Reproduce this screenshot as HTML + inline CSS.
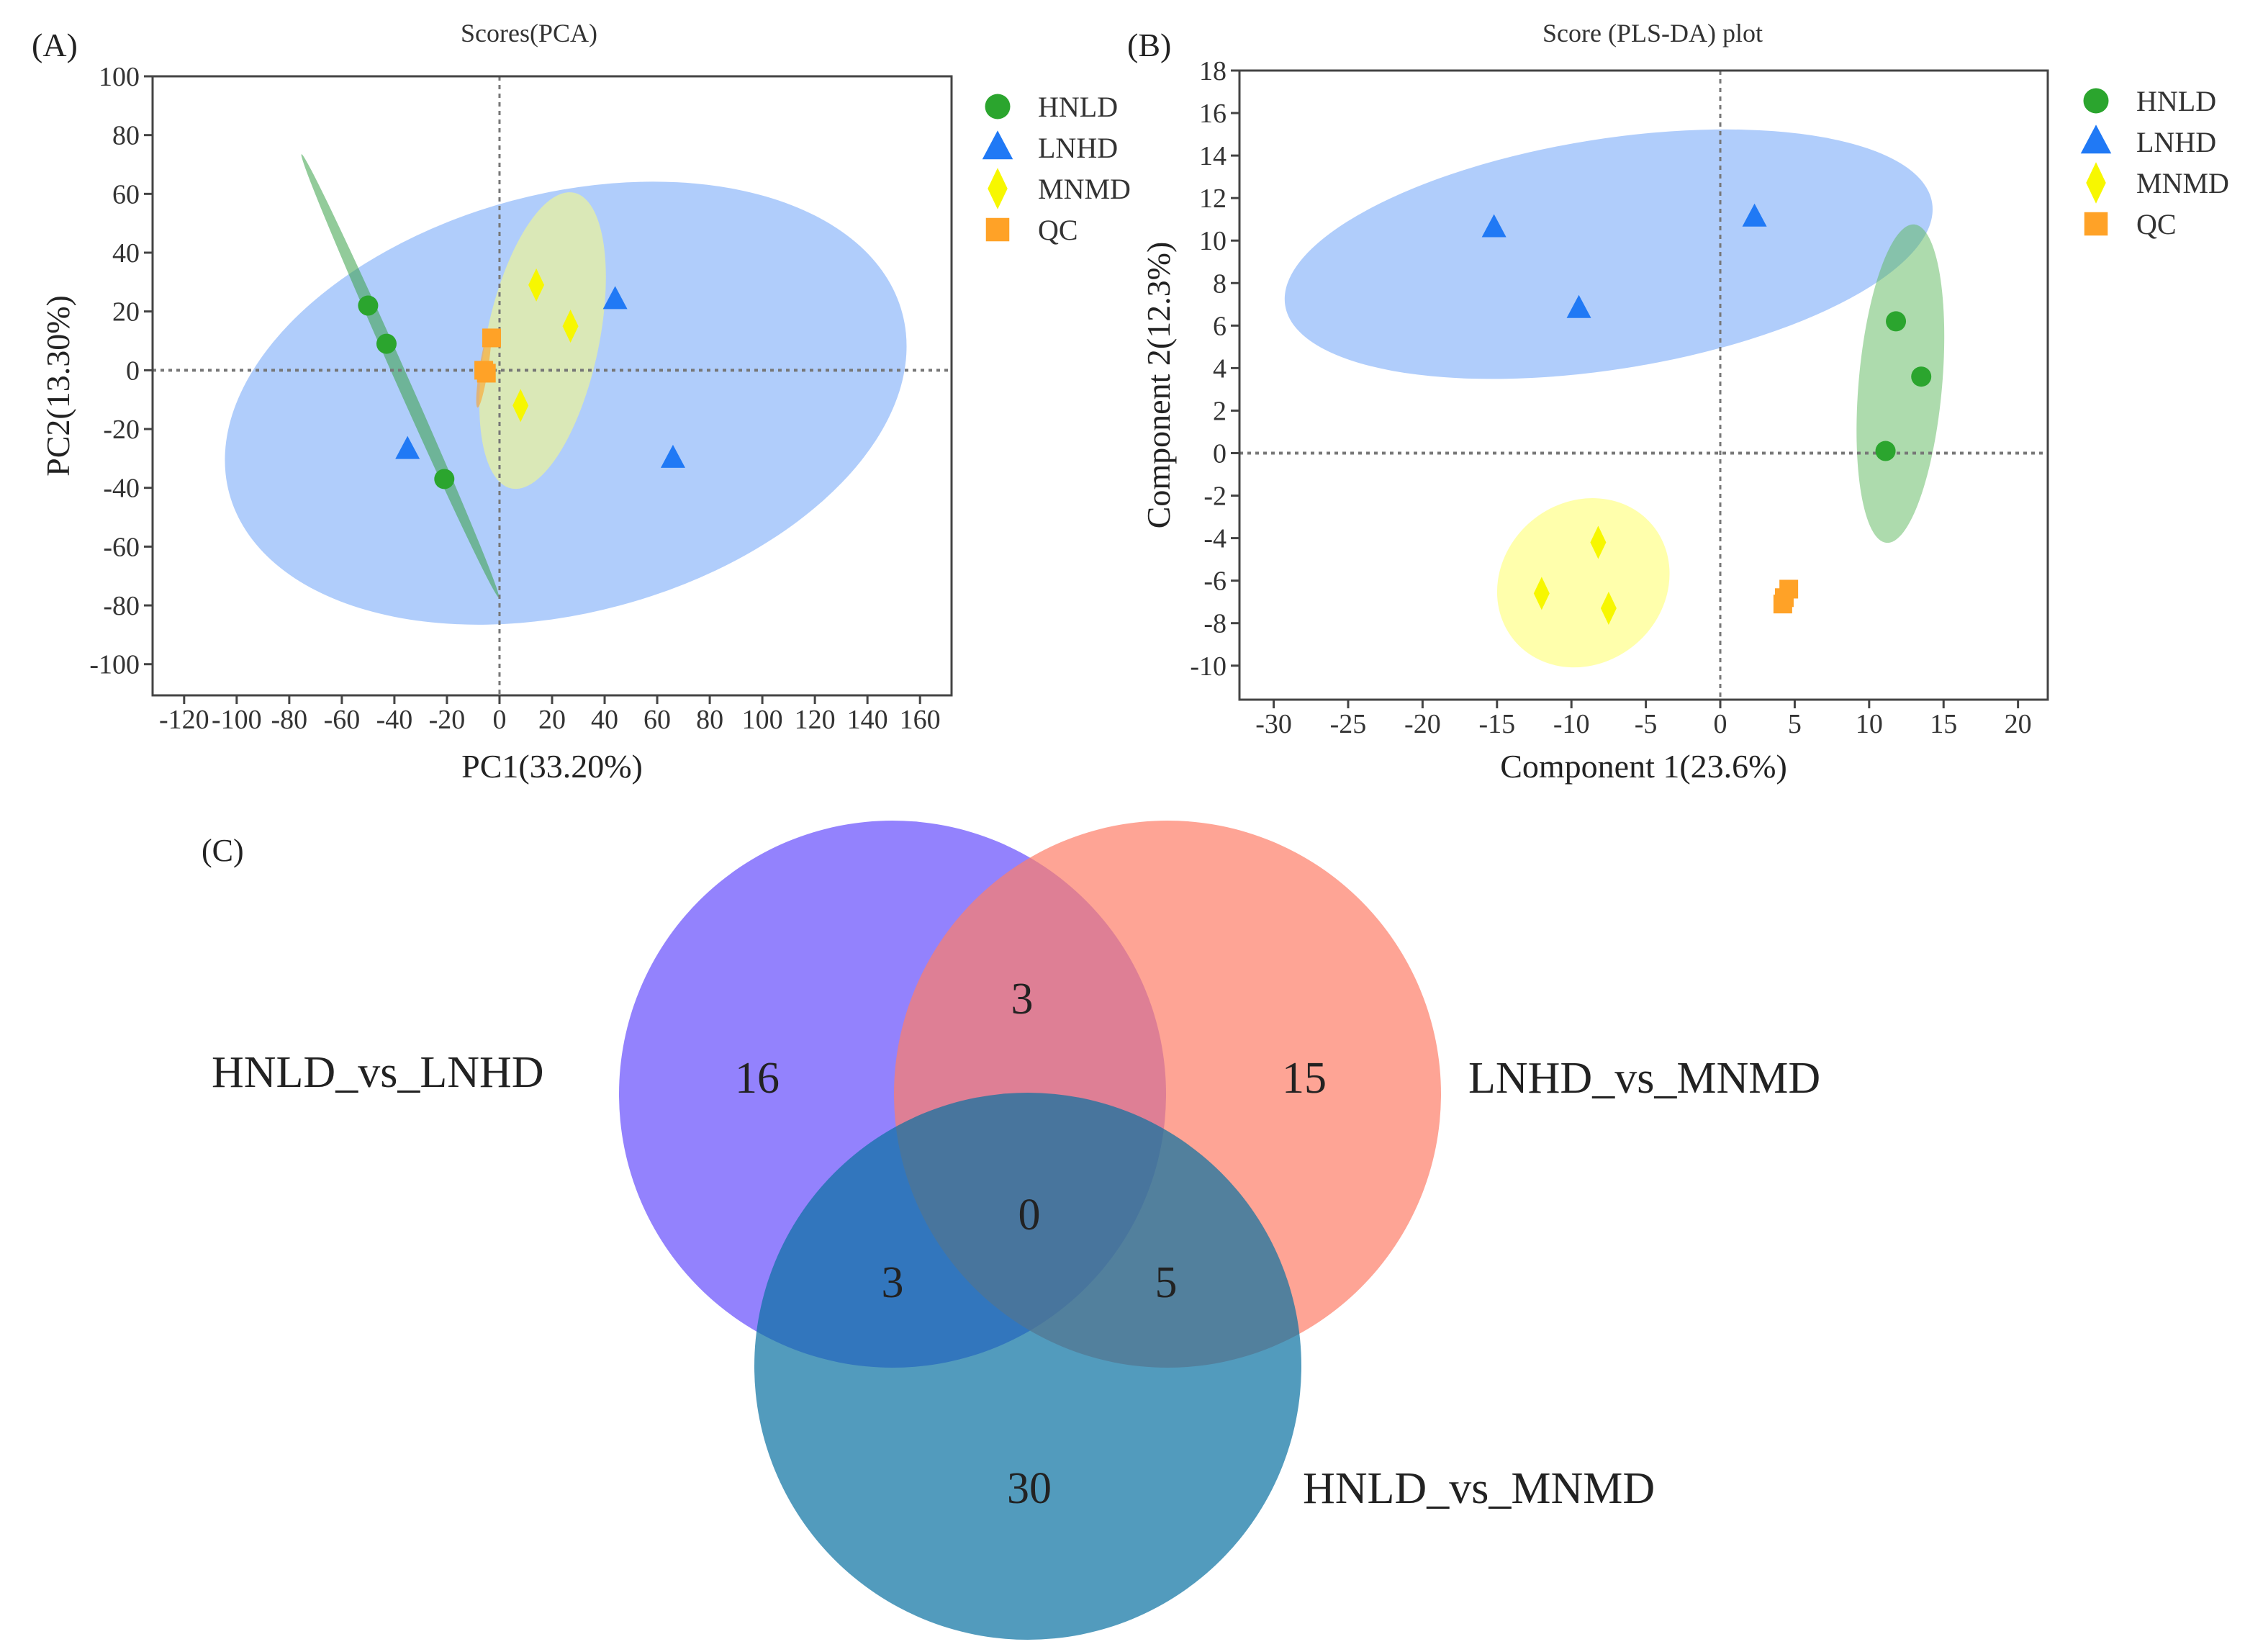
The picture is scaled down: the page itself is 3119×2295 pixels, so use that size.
<!DOCTYPE html>
<html><head><meta charset="utf-8"><style>
html,body{margin:0;padding:0;background:#fff}
svg{display:block;font-family:"Liberation Serif","DejaVu Serif",serif}
text{font-family:"Liberation Serif","DejaVu Serif",serif}
</style></head><body>
<svg id="fig" width="3119" height="2295" viewBox="0 0 3119 2295" xmlns="http://www.w3.org/2000/svg" font-family="Liberation Serif, serif">
<g id="pa"></g>
<g id="pb"></g>
<g id="pc"></g>
</svg>
<script>
// ---- Panel A data (PCA) ----
const aXTicks=[-120,-100,-80,-60,-40,-20,0,20,40,60,80,100,120,140,160];
const aYTicks=[100,80,60,40,20,0,-20,-40,-60,-80,-100];
const aHNLD=[[-50,22],[-43,9],[-21,-37]];
const aLNHD=[[-35,-27],[44,24],[66,-30]];
const aMNMD=[[14,29],[27,15],[8,-12]];
const aQC=[[-3,11],[-6,0],[-5,-1]];
// ---- Panel B data (PLS-DA) ----
const bXTicks=[-30,-25,-20,-15,-10,-5,0,5,10,15,20];
const bYTicks=[18,16,14,12,10,8,6,4,2,0,-2,-4,-6,-8,-10];
const bHNLD=[[11.8,6.2],[13.5,3.6],[11.1,0.1]];
const bLNHD=[[-15.2,10.6],[-9.5,6.8],[2.3,11.1]];
const bMNMD=[[-8.2,-4.2],[-12,-6.6],[-7.5,-7.3]];
const bQC=[[4.6,-6.4],[4.3,-6.8],[4.2,-7.1]];
// ---- Venn data ----
const vennSets=["HNLD_vs_LNHD","LNHD_vs_MNMD","HNLD_vs_MNMD"];
const vennCounts={a:16,b:15,c:30,ab:3,ac:3,bc:5,abc:0};

const NS="http://www.w3.org/2000/svg";
const FF='"Liberation Serif", "DejaVu Serif", serif';
function mk(parent,tag,attrs,text){const e=document.createElementNS(NS,tag);for(const k in attrs)e.setAttribute(k,attrs[k]);if(text!==undefined){e.textContent=text;e.setAttribute('font-family',FF);}parent.appendChild(e);return e;}
const COL={HNLD:"#2ba52e",LNHD:"#2079f5",MNMD:"#f7f700",QC:"#ffa227"};
function marker(g,type,x,y,s){
  let e;
  if(type==="HNLD")e=mk(g,"circle",{cx:x,cy:y,r:14*s,fill:COL.HNLD});
  else if(type==="LNHD")e=mk(g,"polygon",{points:`${x},${y-19*s} ${x-17*s},${y+13*s} ${x+17*s},${y+13*s}`,fill:COL.LNHD});
  else if(type==="MNMD")e=mk(g,"polygon",{points:`${x},${y-23*s} ${x+11*s},${y} ${x},${y+23*s} ${x-11*s},${y}`,fill:COL.MNMD});
  else e=mk(g,"rect",{x:x-13*s,y:y-13*s,width:26*s,height:26*s,fill:COL.QC});
  return e;
}
function panel(g,cfg){
  const {x0,x1,y0,y1,xmin,xmax,ymin,ymax,xt,yt}=cfg;
  const sx=v=>x0+(v-xmin)/(xmax-xmin)*(x1-x0);
  const sy=v=>y1-(v-ymin)/(ymax-ymin)*(y1-y0);
  cfg.ellipses.forEach(el=>{
    const e=mk(g,"ellipse",{cx:sx(el.cx),cy:sy(el.cy),rx:el.rx,ry:el.ry,fill:el.fill,"fill-opacity":el.op,transform:`rotate(${el.rot} ${sx(el.cx)} ${sy(el.cy)})`});
    
    
  });
  const zl=mk(g,"line",{x1:x0,x2:x1,y1:sy(0),y2:sy(0),stroke:"#777","stroke-width":4,"stroke-dasharray":"5,6"});
  
  
  const zv=mk(g,"line",{x1:sx(0),x2:sx(0),y1:y0,y2:y1,stroke:"#777","stroke-width":3,"stroke-dasharray":"6,6"});
  
  
  const fr=mk(g,"rect",{x:x0,y:y0,width:x1-x0,height:y1-y0,fill:"none",stroke:"#444","stroke-width":3});
  
  
  xt.forEach(v=>{
    mk(g,"line",{x1:sx(v),x2:sx(v),y1:y1,y2:y1+12,stroke:"#444","stroke-width":3});
    const t=mk(g,"text",{x:sx(v),y:y1+46,"font-size":38,"text-anchor":"middle",fill:"#333"},String(v));
    
    
  });
  yt.forEach(v=>{
    mk(g,"line",{x1:x0-12,x2:x0,y1:sy(v),y2:sy(v),stroke:"#444","stroke-width":3});
    const t=mk(g,"text",{x:x0-18,y:sy(v)+13,"font-size":38,"text-anchor":"end",fill:"#333"},String(v));
    
    
  });
  cfg.series.forEach(s=>{
    s.data.forEach(p=>{
      const m=marker(g,s.type,sx(p[0]),sy(p[1]),1);
      
      
    });
  });
  ["HNLD","LNHD","MNMD","QC"].forEach((k,i)=>{
    const ly=cfg.ly+i*cfg.lstep;
    const m=marker(g,k,cfg.lx,ly,1.25);
    
    
    const t=mk(g,"text",{x:cfg.lx+56,y:ly+14,"font-size":40,fill:"#333"},k);
    
    
  });
  const ti=mk(g,"text",{x:cfg.tx,y:58,"font-size":36,"text-anchor":"middle",fill:"#333"},cfg.title);
  
  
  const pl=mk(g,"text",{x:cfg.px,y:78,"font-size":46,fill:"#222"},cfg.plabel);
  
  
  const xl=mk(g,"text",{x:(x0+x1)/2,y:1080,"font-size":46,"text-anchor":"middle",fill:"#222"},cfg.xlabel);
  
  
  const yx=cfg.ylx, ym=(y0+y1)/2;
  const yl=mk(g,"text",{x:yx,y:ym,"font-size":46,"text-anchor":"middle",fill:"#222",transform:`rotate(-90 ${yx} ${ym})`},cfg.ylabel);
  
  
}
panel(document.getElementById('pa'),{
  x0:212,x1:1322,y0:106,y1:966,xmin:-132,xmax:172,ymin:-110.6,ymax:100,
  xt:aXTicks,yt:aYTicks,
  ellipses:[
    {name:'lnhd-ellipse',cx:25.2,cy:-11.2,rx:484,ry:291,rot:-15,fill:"#80aef8",op:0.62},
    {name:'mnmd-ellipse',cx:16.4,cy:10.1,rx:210,ry:78,rot:-78,fill:"#e8f0a0",op:0.75},
    {name:'hnld-ellipse',cx:-37.8,cy:-1.9,rx:337,ry:9,rot:66,fill:"#38a047",op:0.55},
    {name:'qc-ellipse',cx:-6,cy:0.6,rx:55,ry:6,rot:-81,fill:"#ffa227",op:0.6}
  ],
  series:[{type:"HNLD",data:aHNLD},{type:"LNHD",data:aLNHD},{type:"MNMD",data:aMNMD},{type:"QC",data:aQC}],
  lx:1386,ly:148,lstep:57,title:"Scores(PCA)",tx:735,plabel:"(A)",px:44,
  xlabel:"PC1(33.20%)",ylabel:"PC2(13.30%)",ylx:96
});
panel(document.getElementById('pb'),{
  x0:1722,x1:2845,y0:98,y1:972,xmin:-32.3,xmax:22,ymin:-11.6,ymax:18,
  xt:bXTicks,yt:bYTicks,
  ellipses:[
    {name:'lnhd-ellipse',cx:-7.5,cy:9.36,rx:455,ry:160,rot:-9,fill:"#80aef8",op:0.62},
    {name:'hnld-ellipse',cx:12.1,cy:3.27,rx:222,ry:58,rot:-85,fill:"#5cb85c",op:0.5},
    {name:'mnmd-ellipse',cx:-9.2,cy:-6.1,rx:125,ry:112,rot:-40,fill:"#ffff80",op:0.65}
  ],
  series:[{type:"LNHD",data:bLNHD},{type:"HNLD",data:bHNLD},{type:"MNMD",data:bMNMD},{type:"QC",data:bQC}],
  lx:2912,ly:140,lstep:57,title:"Score (PLS-DA) plot",tx:2296,plabel:"(B)",px:1566,
  xlabel:"Component 1(23.6%)",ylabel:"Component 2(12.3%)",ylx:1625
});
(function(){
  const g=document.getElementById('pc');
  const r=380;
  const circ=[[1240,1520,"rgb(101,77,252)"],[1622,1520,"rgb(253,126,104)"],[1428,1898,"rgb(8,112,161)"]];
  circ.forEach((c,i)=>{
    const e=mk(g,"circle",{cx:c[0],cy:c[1],r:r,fill:c[2],"fill-opacity":0.7});
    
    
  });
  const pos={a:[1052,1496],b:[1812,1496],c:[1430,2066],ab:[1420,1386],ac:[1240,1780],bc:[1620,1780],abc:[1430,1686]};
  for(const k in vennCounts){
    const t=mk(g,"text",{x:pos[k][0],y:pos[k][1]+22,"font-size":62,"text-anchor":"middle",fill:"#222"},String(vennCounts[k]));
    
    
  }
  const lp=[[294,1510],[2040,1518],[1810,2088]];
  vennSets.forEach((s,i)=>{
    const t=mk(g,"text",{x:lp[i][0],y:lp[i][1],"font-size":62,fill:"#222"},s);
    
    
  });
  const c=mk(g,"text",{x:280,y:1196,"font-size":44,fill:"#222"},"(C)");
  
  
})();
</script>
</body></html>
